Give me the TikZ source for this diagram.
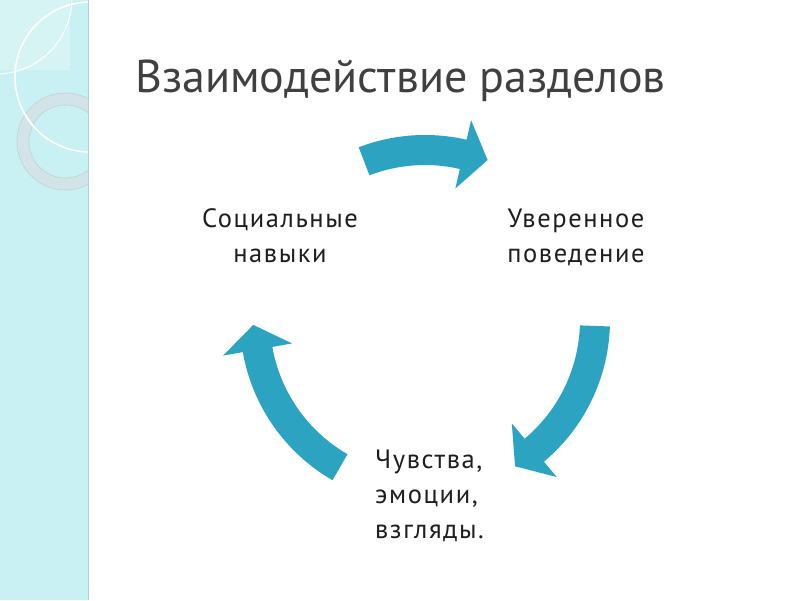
\documentclass[tikz,border=0pt]{standalone}
\usepackage{fontspec}
\setmainfont{PT Sans}
\usetikzlibrary{calc}
\definecolor{arrowblue}{HTML}{2CA3C0}
\definecolor{stripfill}{HTML}{C9F0F2}
\definecolor{stripedge}{HTML}{A9D6DA}
\definecolor{stripsquare}{HTML}{D6F4F4}
\definecolor{ringgray}{HTML}{D2E4E7}
\definecolor{ringedge}{HTML}{BCD2D6}
\definecolor{titlegray}{HTML}{404040}
\definecolor{labelblack}{HTML}{1E1E1E}
\begin{document}
\begin{tikzpicture}[x=1pt,y=1pt,
  cyclearrow/.style={fill=arrowblue,draw=none},
  label/.style={inner sep=0pt,text=labelblack,font=\fontsize{26.5}{35}\selectfont\addfontfeatures{LetterSpace=6}},
  titletext/.style={inner sep=0pt,text=titlegray,font=\fontsize{46}{50}\selectfont}]
\useasboundingbox (0,0) rectangle (800,600);
\fill[white] (0,0) rectangle (800,600);
% left decorative strip
\begin{scope}
  \clip (0,0) rectangle (88,600);
  \fill[stripfill] (0,0) rectangle (88,600);
  \fill[stripsquare] (0,530) rectangle (70,600);
  \draw[white,line width=1pt] (-4,602) ++(0:76) arc[start angle=0,end angle=-92,radius=76];
  \draw[ringgray,line width=12pt] (65.5,458.5) circle[radius=42.5];
  \draw[ringedge,line width=0.6pt] (65.5,458.5) circle[radius=48.5];
  \draw[ringedge,line width=0.6pt] (65.5,458.5) circle[radius=36.5];
  \draw[white,line width=1.6pt] (90,523) circle[radius=75];
\end{scope}
\draw[stripedge,line width=1.2pt] (88.5,0) -- (88.5,600);
% title
\node[titletext,anchor=base west] (title) at (135,507) {Взаимодействие разделов};
% cycle centre
\coordinate (C) at (425,280);
% top arrow
\fill[cyclearrow] ($(C)+(111:185)$) arc[start angle=111,end angle=77,radius=185]
  -- ($(C)+(77:205)$) -- ($(C)+(68.63:171.8)$) -- ($(C)+(77:135)$) -- ($(C)+(77:155)$)
  arc[start angle=77,end angle=111,radius=155] -- cycle;
% right arrow
\fill[cyclearrow] ($(C)+(-2:185)$) arc[start angle=-2,end angle=-50,radius=185]
  -- ($(C)+(-50:205)$) -- ($(C)+(-58.37:171.8)$) -- ($(C)+(-50:135)$) -- ($(C)+(-50:155)$)
  arc[start angle=-50,end angle=-2,radius=155] -- cycle;
% left arrow
\fill[cyclearrow] ($(C)+(240:185)$) arc[start angle=240,end angle=190,radius=185]
  -- ($(C)+(190:205)$) -- ($(C)+(181.63:171.8)$) -- ($(C)+(190:135)$) -- ($(C)+(190:155)$)
  arc[start angle=190,end angle=240,radius=155] -- cycle;
% labels (base anchor = baseline of last line)
\node[label,anchor=base,align=center] (social) at (280,337) {Социальные\\навыки};
\node[label,anchor=base,align=center] (assert) at (576,337) {Уверенное\\поведение};
\node[label,anchor=base west,align=left] (feel) at (375,62) {Чувства,\\эмоции,\\взгляды.};
\end{tikzpicture}
\end{document}
